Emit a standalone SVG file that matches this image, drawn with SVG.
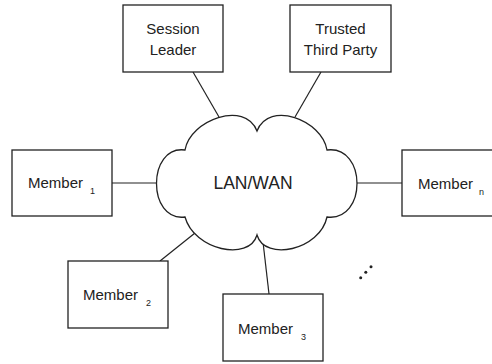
<svg xmlns="http://www.w3.org/2000/svg" width="492" height="364" viewBox="0 0 492 364">
<style>
.box{fill:#fff;stroke:#222;stroke-width:1.3}
.ln{stroke:#222;stroke-width:1.2;fill:none}
.t{font-family:"Liberation Sans",Arial,sans-serif;font-size:15px;fill:#222}
.c{text-anchor:middle}
.s{font-family:"Liberation Sans",Arial,sans-serif;font-size:9px;fill:#222}
</style>
<rect width="492" height="364" fill="#fff"/>
<g id="connectors">
<line class="ln" x1="193" y1="72" x2="219" y2="117"/>
<line class="ln" x1="321" y1="72" x2="295" y2="117"/>
<line class="ln" x1="112" y1="183" x2="157" y2="183"/>
<line class="ln" x1="357" y1="183" x2="402" y2="183"/>
<line class="ln" x1="195" y1="233" x2="160" y2="261"/>
<line class="ln" x1="263" y1="242" x2="269" y2="294"/>
</g>
<g id="cloud">
<path class="box" d="M185,150 C190,120 245,100 257,131 C269,100 322,120 327,150 C367,145 367,222 327,217 C320,250 265,262 257,235 C249,262 194,250 185,217 C147,222 147,145 185,150 Z"/>
<text x="253" y="189" text-anchor="middle" style="font-family:'Liberation Sans',Arial,sans-serif;font-size:17.5px;fill:#222">LAN/WAN</text>
</g>
<g id="session-leader">
<rect class="box" x="123" y="5" width="100" height="67"/>
<text class="t c" x="173" y="34">Session</text>
<text class="t c" x="173" y="55">Leader</text>
</g>
<g id="trusted-third-party">
<rect class="box" x="290" y="5" width="101" height="67"/>
<text class="t c" x="340.5" y="34">Trusted</text>
<text class="t c" x="340.5" y="55">Third Party</text>
</g>
<g id="member1">
<rect class="box" x="12" y="150" width="100" height="66"/>
<text class="t" x="28" y="188">Member</text>
<text class="s" x="90" y="194">1</text>
</g>
<g id="membern">
<rect class="box" x="402" y="150" width="100" height="66"/>
<text class="t" x="418" y="189">Member</text>
<text class="s" x="479" y="195">n</text>
</g>
<g id="member2">
<rect class="box" x="68" y="261" width="100" height="67"/>
<text class="t" x="83" y="300">Member</text>
<text class="s" x="146" y="306">2</text>
</g>
<g id="member3">
<rect class="box" x="223" y="294" width="100" height="67"/>
<text class="t" x="238" y="334">Member</text>
<text class="s" x="301" y="340">3</text>
</g>
<g id="ellipsis" fill="#222">
<circle cx="360.7" cy="277.7" r="1.5"/>
<circle cx="365.8" cy="272.3" r="1.5"/>
<circle cx="371" cy="266.8" r="1.5"/>
</g>
</svg>
